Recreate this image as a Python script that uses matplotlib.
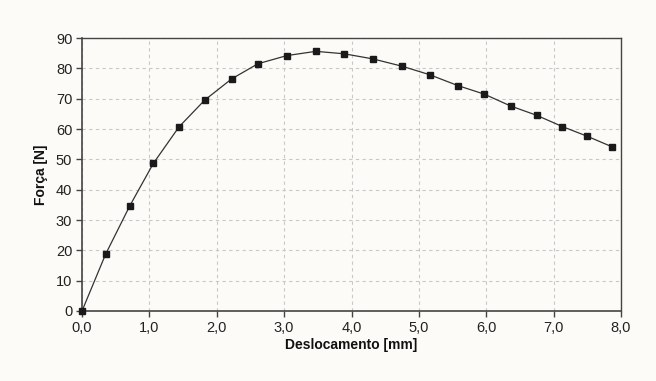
import matplotlib.pyplot as plt
from matplotlib.ticker import FuncFormatter

plt.rcParams['font.family'] = ['Liberation Sans', 'DejaVu Sans']

deslocamento = [0.0, 0.35, 0.71, 1.06, 1.44, 1.82, 2.22, 2.61, 3.04, 3.47,
                3.89, 4.32, 4.75, 5.16, 5.58, 5.97, 6.36, 6.75, 7.13, 7.50, 7.87]
forca = [0.0, 18.7, 34.7, 48.7, 60.7, 69.5, 76.5, 81.5, 84.2, 85.6,
         84.8, 83.1, 80.7, 77.9, 74.3, 71.5, 67.6, 64.5, 60.8, 57.6, 54.1]

x_ticks = [0, 1, 2, 3, 4, 5, 6, 7, 8]
y_ticks = [0, 10, 20, 30, 40, 50, 60, 70, 80, 90]

bg = '#fdfbf8'
fig = plt.figure(figsize=(6.56, 3.81), dpi=100, facecolor=bg)
ax = fig.add_axes([82 / 656, 1 - 311 / 381, (621 - 82) / 656, (311 - 38) / 381])
ax.set_facecolor(bg)

ax.plot(deslocamento, forca, color='#333333', linewidth=0.9,
        marker='s', markersize=4.2, markerfacecolor='#1a1a1a',
        markeredgecolor='#1a1a1a', clip_on=False, zorder=3)

ax.set_xlim(0, 8)
ax.set_ylim(0, 90)
ax.set_xticks(x_ticks)
ax.set_yticks(y_ticks)
ax.xaxis.set_major_formatter(FuncFormatter(lambda v, p: f'{v:.1f}'.replace('.', ',')))

ax.grid(True, color='#c8c8c8', linestyle=(0, (3, 3)), linewidth=0.8)
ax.set_axisbelow(True)

for side in ['top', 'right']:
    ax.spines[side].set_color('#444444')
    ax.spines[side].set_linewidth(1.0)
for side in ['left', 'bottom']:
    ax.spines[side].set_color('#444444')
    ax.spines[side].set_linewidth(1.2)

ax.tick_params(axis='both', direction='out', length=4, width=1,
               color='#444444', labelsize=10.5, labelcolor='#222222', pad=3)

ax.set_xlabel('Deslocamento [mm]', fontsize=10, fontweight='bold', color='#111111', labelpad=2)
ax.set_ylabel('Força [N]', fontsize=10, fontweight='bold', color='#111111', labelpad=6)

fig.savefig('out.png', dpi=100, facecolor=bg)
